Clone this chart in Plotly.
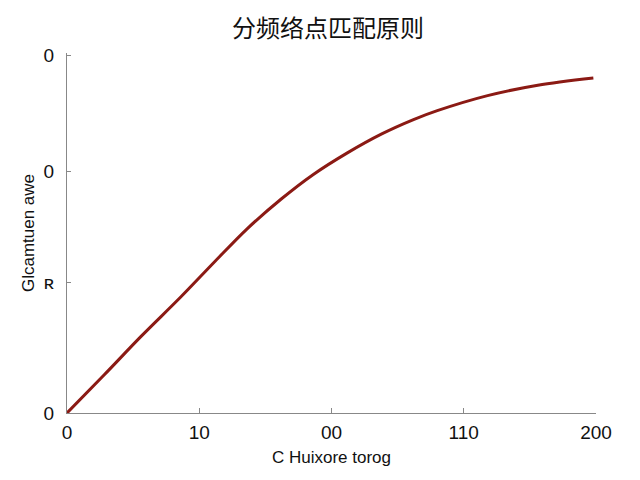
import plotly.graph_objects as go

# Data
x_vals = [0, 14, 28, 43, 56, 68, 81, 93, 106, 119, 131, 140, 159, 178, 199]
y_vals = [0, 0.106, 0.214, 0.324, 0.424, 0.514, 0.598, 0.666, 0.727, 0.780, 0.820, 0.845, 0.887, 0.916, 0.936]

x_tickvals = [0, 50, 100, 150, 200]
x_ticktext = ["0", "10", "00", "110", "200"]
y_tickvals = [0, 0.366, 0.676, 1.0]
y_ticktext = ["0", "ʀ", "0", "0"]

title_text = "分频络点匹配原则"
x_title = "C Huixore torog"
y_title = "Glcamtuen awe"

fig = go.Figure()
fig.add_trace(go.Scatter(
    x=x_vals, y=y_vals, mode="lines",
    line=dict(color="#8b1a14", width=3, shape="spline", smoothing=0.9),
    showlegend=False,
))

fig.update_layout(
    width=640, height=480,
    paper_bgcolor="white", plot_bgcolor="white",
    margin=dict(l=59, r=52, t=45, b=75),
    font=dict(family="Liberation Sans, Arial, sans-serif", size=19, color="#111"),
    title=dict(text=title_text, x=0.5, xanchor="center", y=0.958, yanchor="middle",
               font=dict(family="Noto Sans CJK SC", size=24, color="#111")),
)
fig.update_xaxes(
    range=[0, 200], tickvals=x_tickvals, ticktext=x_ticktext,
    showline=True, linecolor="#888", linewidth=1.2,
    ticks="inside", ticklen=5, tickcolor="#888",
    showgrid=False, zeroline=False, ticklabelstandoff=2,
    title=dict(text=x_title, standoff=9, font=dict(size=17)),
)
fig.update_yaxes(
    range=[0, 1.006], tickvals=y_tickvals, ticktext=y_ticktext,
    showline=True, linecolor="#888", linewidth=1.2,
    ticks="inside", ticklen=4, tickcolor="#888",
    showgrid=False, zeroline=False, ticklabelstandoff=8,
    title=dict(text=y_title, standoff=4, font=dict(size=17)),
)

fig.write_html("out.html")
